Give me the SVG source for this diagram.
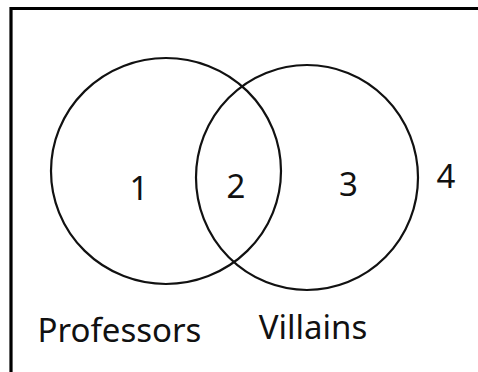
<svg xmlns="http://www.w3.org/2000/svg" width="478" height="372" viewBox="0 0 478 372">
<style>
.frame{fill:none;stroke:#000;stroke-width:3.2}
.set{fill:none;stroke:#111;stroke-width:2.2}
.t{font-family:"Noto Sans","Open Sans",sans-serif;fill:#111;text-anchor:middle}
.n{font-size:33px}
.lab{font-size:33px}
</style>
<rect width="478" height="372" fill="#fff"/>
<g id="frame"><path class="frame" d="M11,372 V8.5 H478"/></g>
<g id="professors">
<ellipse class="set" cx="166" cy="171" rx="115" ry="113"/>
<text class="t lab" x="119.5" y="342">Professors</text>
</g>
<g id="villains">
<ellipse class="set" cx="307" cy="177.5" rx="111" ry="112.5"/>
<text class="t lab" x="313" y="339">Villains</text>
</g>
<g id="regions">
<text class="t n" x="139" y="200">1</text>
<text class="t n" x="236" y="198">2</text>
<text class="t n" x="348.5" y="196">3</text>
<text class="t n" x="446" y="188">4</text>
</g>
</svg>
